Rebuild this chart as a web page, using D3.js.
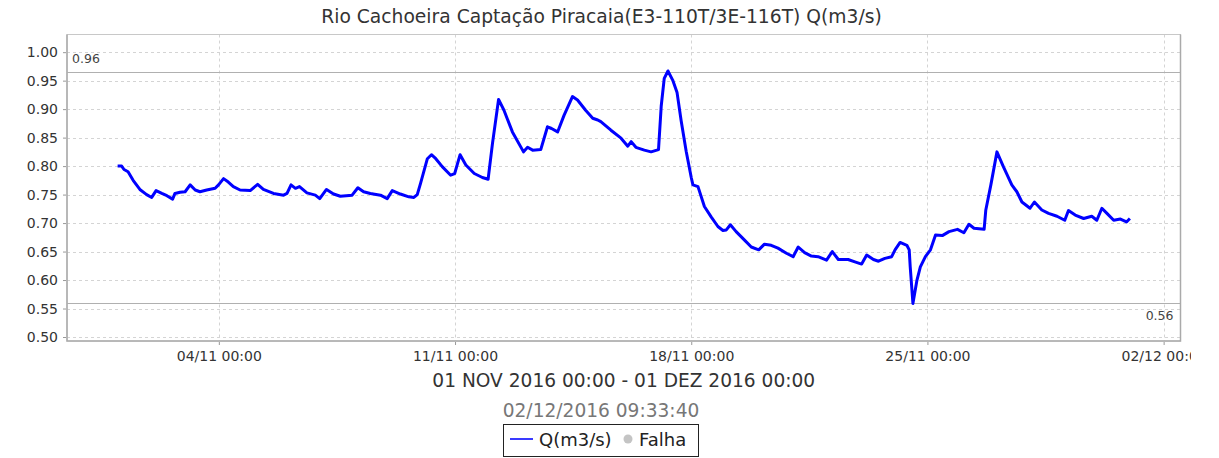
<!DOCTYPE html>
<html>
<head>
<meta charset="utf-8">
<script src="https://cdn.jsdelivr.net/npm/d3@7"></script>
<style>
body { margin: 0; background: #fff; }
text { font-family: "DejaVu Sans", sans-serif; }
</style>
</head>
<body>
<svg width="1219" height="458"></svg>
<script>
// dados (dias a partir de 01/11/2016 00:00)
var dias = [0.00, 0.12, 0.19, 0.31, 0.46, 0.66, 0.86, 1.01, 1.14, 1.31, 1.46, 1.63, 1.70, 1.85, 2.00,
    2.15, 2.30, 2.44, 2.64, 2.89, 2.99, 3.14, 3.28, 3.43, 3.63, 3.93, 4.15, 4.32, 4.62, 4.92,
    5.02, 5.14, 5.27, 5.39, 5.61, 5.86, 5.99, 6.19, 6.40, 6.60, 6.95, 7.12, 7.29, 7.49, 7.79,
    7.99, 8.14, 8.38, 8.63, 8.78, 8.88, 8.98, 9.18, 9.30, 9.43, 9.62, 9.87, 9.99, 10.15, 10.32,
    10.57, 10.81, 10.98, 11.11, 11.29, 11.45, 11.70, 12.03, 12.15, 12.30, 12.54, 12.74, 12.86, 13.04, 13.23,
    13.48, 13.63, 13.87, 14.08, 14.23, 14.32, 14.62, 14.92, 15.12, 15.22, 15.36, 15.61, 15.81, 16.03, 16.11,
    16.20, 16.31, 16.45, 16.58, 16.70, 16.85, 17.00, 17.05, 17.20, 17.39, 17.59, 17.79, 17.94, 18.04, 18.16,
    18.33, 18.58, 18.78, 19.00, 19.17, 19.37, 19.57, 19.82, 20.02, 20.17, 20.36, 20.56, 20.76, 21.01, 21.18,
    21.36, 21.65, 21.85, 22.05, 22.20, 22.40, 22.55, 22.74, 22.94, 23.04, 23.19, 23.39, 23.46, 23.49, 23.57,
    23.69, 23.79, 23.94, 24.09, 24.24, 24.44, 24.64, 24.89, 25.08, 25.23, 25.38, 25.68, 25.73, 25.88, 26.06,
    26.25, 26.50, 26.65, 26.80, 27.04, 27.17, 27.39, 27.59, 27.84, 28.07, 28.18, 28.38, 28.63, 28.87, 29.02,
    29.17, 29.32, 29.52, 29.72, 29.90, 30.00];
var vazao = [0.800, 0.800, 0.794, 0.790, 0.775, 0.759, 0.750, 0.745, 0.757, 0.752, 0.748, 0.742, 0.752, 0.754, 0.755,
    0.767, 0.758, 0.755, 0.758, 0.761, 0.767, 0.778, 0.772, 0.764, 0.758, 0.757, 0.768, 0.759, 0.752, 0.749,
    0.752, 0.767, 0.761, 0.764, 0.753, 0.749, 0.743, 0.759, 0.751, 0.747, 0.749, 0.762, 0.755, 0.752, 0.749,
    0.743, 0.757, 0.751, 0.746, 0.745, 0.750, 0.770, 0.813, 0.820, 0.813, 0.799, 0.784, 0.787, 0.820, 0.802,
    0.787, 0.780, 0.777, 0.840, 0.917, 0.898, 0.860, 0.825, 0.833, 0.828, 0.829, 0.869, 0.866, 0.860, 0.889,
    0.922, 0.916, 0.898, 0.884, 0.881, 0.878, 0.863, 0.849, 0.835, 0.843, 0.833, 0.828, 0.825, 0.829, 0.905,
    0.954, 0.967, 0.951, 0.929, 0.880, 0.826, 0.780, 0.767, 0.764, 0.729, 0.711, 0.694, 0.687, 0.688, 0.697,
    0.685, 0.670, 0.658, 0.653, 0.663, 0.661, 0.656, 0.647, 0.641, 0.658, 0.648, 0.642, 0.641, 0.635, 0.650,
    0.636, 0.636, 0.632, 0.628, 0.644, 0.636, 0.633, 0.638, 0.641, 0.653, 0.666, 0.661, 0.653, 0.623, 0.559,
    0.600, 0.623, 0.641, 0.653, 0.679, 0.678, 0.685, 0.689, 0.683, 0.698, 0.691, 0.689, 0.723, 0.767, 0.825,
    0.799, 0.767, 0.755, 0.737, 0.726, 0.737, 0.723, 0.717, 0.712, 0.705, 0.722, 0.714, 0.708, 0.712, 0.705,
    0.726, 0.717, 0.705, 0.707, 0.702, 0.708];

var yTicks = [0.50, 0.55, 0.60, 0.65, 0.70, 0.75, 0.80, 0.85, 0.90, 0.95, 1.00];
var xTicks = ["2016-11-04", "2016-11-11", "2016-11-18", "2016-11-25", "2016-12-02"];
var limites = [0.966, 0.559];          // linhas de maximo e minimo
var limitesLabel = ["0.96", "0.56"];

var titulo = "Rio Cachoeira Captação Piracaia(E3-110T/3E-116T) Q(m3/s)";
var periodo = "01 NOV 2016 00:00 - 01 DEZ 2016 00:00";
var gerado = "02/12/2016 09:33:40";

var svg = d3.select("svg"),
    width = +svg.attr("width"),
    height = +svg.attr("height");

// area do grafico (nao usar "top": e window.top)
var pLeft = 67, pRight = 1180.5, pTop = 34.5, pBottom = 341;
var imgRight = 1191;   // a imagem original termina aqui, o ultimo rotulo fica cortado

var base = new Date(2016, 10, 1);
var parseDia = d3.timeParse("%Y-%m-%d");
var dados = dias.map(function (d, i) {
    return { t: new Date(base.getTime() + d * 864e5), v: vazao[i] };
});

var x = d3.scaleTime()
    .domain([new Date(2016, 9, 30, 12), new Date(2016, 11, 2, 12)])
    .range([pLeft, pRight]);
var y = d3.scaleLinear()
    .domain([0.493, 1.031])
    .range([pBottom, pTop]);

svg.append("rect").attr("width", width).attr("height", height).attr("fill", "#fff");

svg.append("clipPath")
    .attr("id", "corte")
    .append("rect")
    .attr("x", 0).attr("y", 0)
    .attr("width", imgRight).attr("height", height);

// titulo
svg.append("text")
    .attr("x", 601.5).attr("y", 22.5)
    .attr("text-anchor", "middle")
    .style("font-size", "18.7px")
    .attr("fill", "#333")
    .text(titulo);

// grade
var xTickDates = xTicks.map(parseDia);
svg.append("g")
    .selectAll("line")
    .data(xTickDates)
    .enter().append("line")
    .attr("x1", function (d) { return Math.round(x(d)) + 0.5; })
    .attr("x2", function (d) { return Math.round(x(d)) + 0.5; })
    .attr("y1", pTop).attr("y2", pBottom)
    .attr("stroke", "#d4d4d4")
    .attr("stroke-dasharray", "3,3");
svg.append("g")
    .selectAll("line")
    .data(yTicks)
    .enter().append("line")
    .attr("x1", pLeft).attr("x2", pRight)
    .attr("y1", function (d) { return Math.round(y(d)) + 0.5; })
    .attr("y2", function (d) { return Math.round(y(d)) + 0.5; })
    .attr("stroke", "#d4d4d4")
    .attr("stroke-dasharray", "3,3");

// linhas de limite
svg.append("g")
    .selectAll("line")
    .data(limites)
    .enter().append("line")
    .attr("x1", pLeft).attr("x2", pRight)
    .attr("y1", function (d) { return Math.round(y(d)) + 0.5; })
    .attr("y2", function (d) { return Math.round(y(d)) + 0.5; })
    .attr("stroke", "#b0b0b0")
    .attr("stroke-width", 1);

svg.append("text")
    .attr("x", pLeft + 5).attr("y", y(limites[0]) - 9)
    .style("font-size", "12.5px")
    .attr("fill", "#444")
    .text(limitesLabel[0]);
svg.append("text")
    .attr("x", pRight - 7).attr("y", y(limites[1]) + 17)
    .attr("text-anchor", "end")
    .style("font-size", "12.5px")
    .attr("fill", "#444")
    .text(limitesLabel[1]);

// borda
svg.append("rect")
    .attr("x", pLeft).attr("y", pTop)
    .attr("width", pRight - pLeft).attr("height", pBottom - pTop)
    .attr("fill", "none")
    .attr("stroke", "#c8c8c8");
svg.append("path")
    .attr("d", "M" + pLeft + "," + pTop + "V" + pBottom + "H" + pRight + "V" + pTop)
    .attr("fill", "none")
    .attr("stroke", "#aaa")
    .attr("stroke-width", 1.5);

// eixos
var yAxis = svg.append("g")
    .attr("transform", "translate(" + (pLeft - 1) + ",0)")
    .call(d3.axisLeft(y).tickValues(yTicks).tickFormat(d3.format(".2f")).tickSize(3).tickPadding(5));
var xAxis = svg.append("g")
    .attr("clip-path", "url(#corte)")
    .append("g")
    .attr("transform", "translate(0," + (pBottom + 1) + ")")
    .call(d3.axisBottom(x).tickValues(xTickDates).tickFormat(d3.timeFormat("%d/%m %H:%M")).tickSize(3).tickPadding(6));
[yAxis, xAxis].forEach(function (a) {
    a.select(".domain").remove();
    a.selectAll(".tick line").attr("stroke", "#999");
    a.selectAll("text")
        .style("font-size", "14px")
        .style("font-family", "DejaVu Sans")
        .attr("fill", "#333");
});

// serie
var line = d3.line()
    .x(function (d) { return x(d.t); })
    .y(function (d) { return y(d.v); });
svg.append("path")
    .datum(dados)
    .attr("fill", "none")
    .attr("stroke", "#0000ff")
    .attr("stroke-width", 3)
    .attr("stroke-linejoin", "round")
    .attr("d", line);

// rodape
svg.append("text")
    .attr("x", (pLeft + pRight) / 2).attr("y", 387)
    .attr("text-anchor", "middle")
    .style("font-size", "18.6px")
    .attr("fill", "#333")
    .text(periodo);
svg.append("text")
    .attr("x", 601).attr("y", 416.5)
    .attr("text-anchor", "middle")
    .style("font-size", "18.6px")
    .attr("fill", "#777")
    .text(gerado);

// legenda
var leg = svg.append("g");
leg.append("rect")
    .attr("x", 503.5).attr("y", 424.5)
    .attr("width", 195).attr("height", 32)
    .attr("fill", "#fff")
    .attr("stroke", "#222");
leg.append("line")
    .attr("x1", 510).attr("x2", 533)
    .attr("y1", 439).attr("y2", 439)
    .attr("stroke", "#3a3aff")
    .attr("stroke-width", 2);
leg.append("text")
    .attr("x", 539).attr("y", 446)
    .style("font-size", "18px")
    .attr("fill", "#222")
    .text("Q(m3/s)");
leg.append("circle")
    .attr("cx", 628).attr("cy", 439).attr("r", 4.5)
    .attr("fill", "#c4c4c4");
leg.append("text")
    .attr("x", 639).attr("y", 446)
    .style("font-size", "18px")
    .attr("fill", "#222")
    .text("Falha");
</script>
</body>
</html>
